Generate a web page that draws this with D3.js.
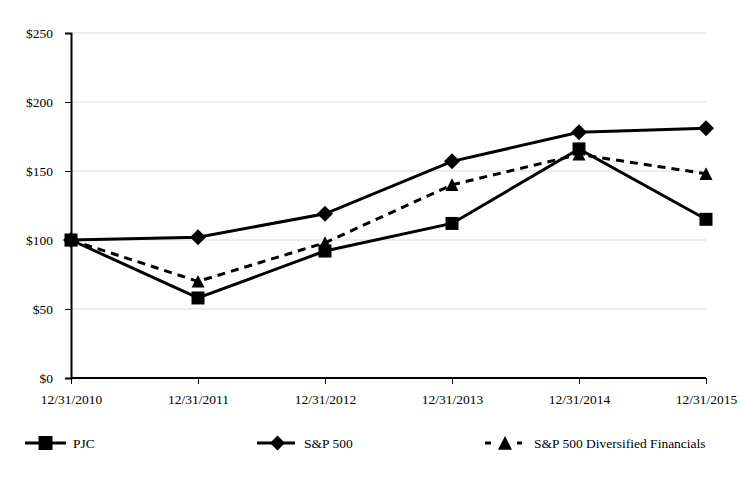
<!DOCTYPE html>
<html><head><meta charset="utf-8">
<script src="https://cdn.jsdelivr.net/npm/d3@7"></script>
<style>body{margin:0;background:#fff;}svg{display:block;}svg text{font-family:"Times New Roman","Liberation Serif",Times,serif !important;fill:#000;}</style>
</head><body>
<svg id="c" width="740" height="480"></svg>
<script>
const categories = ["12/31/2010","12/31/2011","12/31/2012","12/31/2013","12/31/2014","12/31/2015"];
const pjc = [100, 58, 92, 112, 166, 115];
const sp500 = [100, 102, 119, 157, 178, 181];
const spDivFin = [100, 70, 98, 140, 162, 148];
const yTicks = [0, 50, 100, 150, 200, 250];
const seriesNames = ["PJC", "S&P 500", "S&P 500 Diversified Financials"];

const svg = d3.select("#c");
const x = d3.scalePoint().domain(categories).range([71, 706]);
const y = d3.scaleLinear().domain([0, 250]).range([378, 33]);
const FS = 13.5;

// custom symbols (size = half-extent in px)
const sqSym = { draw(ctx, r) { ctx.rect(-r, -r, 2 * r, 2 * r); } };
const diaSym = { draw(ctx, r) { ctx.moveTo(0, -r); ctx.lineTo(r, 0); ctx.lineTo(0, r); ctx.lineTo(-r, 0); ctx.closePath(); } };
const triSym = { draw(ctx, r) { ctx.moveTo(0, -r); ctx.lineTo(r, r * 0.95); ctx.lineTo(-r, r * 0.95); ctx.closePath(); } };
const sym = (t, r) => d3.symbol().type(t).size(r)();

// gridlines
svg.append("g").selectAll("line").data(yTicks.filter(d => d > 0)).join("line")
  .attr("x1", 71).attr("x2", 706).attr("y1", d => y(d)).attr("y2", d => y(d))
  .attr("stroke", "#d9d9d9").attr("stroke-width", 1);

// y axis
const ya = svg.append("g").attr("transform", "translate(71,0)")
  .call(d3.axisLeft(y).tickValues(yTicks).tickFormat(d => "$" + d).tickSize(6).tickPadding(12));
ya.select(".domain").attr("stroke", "#000").attr("stroke-width", 2);
ya.selectAll(".tick line").attr("stroke", "#000");
ya.selectAll("text").attr("font-size", FS);

// x axis
const xa = svg.append("g").attr("transform", "translate(0,378)")
  .call(d3.axisBottom(x).tickSize(6).tickPadding(10));
xa.select(".domain").attr("stroke", "#000").attr("stroke-width", 2).attr("d", "M71,0H706");
xa.selectAll(".tick line").attr("stroke", "#000");
xa.selectAll("text").attr("font-size", FS);

const line = d3.line().x((d, i) => x(categories[i])).y(d => y(d));

function drawSeries(data, dash, t, r) {
  svg.append("path").datum(data).attr("d", line).attr("fill", "none")
    .attr("stroke", "#000").attr("stroke-width", 3).attr("stroke-dasharray", dash);
  svg.append("g").selectAll("path").data(data).join("path")
    .attr("transform", (d, i) => `translate(${x(categories[i])},${y(d)})`)
    .attr("d", sym(t, r)).attr("fill", "#000");
}
drawSeries(spDivFin, "8,6", triSym, 6.5);
drawSeries(sp500, null, diaSym, 8);
drawSeries(pjc, null, sqSym, 6.5);

// legend
const lg = svg.append("g");
const ly = 443;
// PJC
lg.append("line").attr("x1", 25).attr("x2", 66).attr("y1", ly).attr("y2", ly).attr("stroke", "#000").attr("stroke-width", 3);
lg.append("path").attr("transform", `translate(45.5,${ly})`).attr("d", sym(sqSym, 7));
lg.append("text").attr("x", 73).attr("y", ly + 4.5).attr("font-size", FS).text(seriesNames[0]);
// S&P 500
lg.append("line").attr("x1", 257).attr("x2", 295).attr("y1", ly).attr("y2", ly).attr("stroke", "#000").attr("stroke-width", 3);
lg.append("path").attr("transform", `translate(277.5,${ly})`).attr("d", sym(diaSym, 7.5));
lg.append("text").attr("x", 304).attr("y", ly + 4.5).attr("font-size", FS).text(seriesNames[1]);
// Diversified
lg.append("line").attr("x1", 485).attr("x2", 491).attr("y1", ly).attr("y2", ly).attr("stroke", "#000").attr("stroke-width", 3);
lg.append("line").attr("x1", 517).attr("x2", 522).attr("y1", ly).attr("y2", ly).attr("stroke", "#000").attr("stroke-width", 3);
lg.append("path").attr("transform", `translate(505,${ly})`).attr("d", sym(triSym, 7));
lg.append("text").attr("x", 534).attr("y", ly + 4.5).attr("font-size", FS).text(seriesNames[2]);
</script>
</body></html>
